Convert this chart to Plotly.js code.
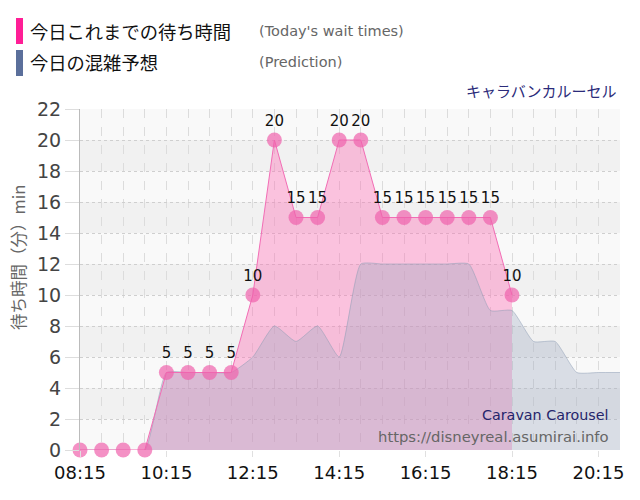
<!DOCTYPE html>
<html>
<head>
<meta charset="utf-8">
<script src="https://cdn.plot.ly/plotly-3.0.1.min.js"></script>
<style>html,body{margin:0;padding:0;background:#fff;}#chart{width:640px;height:500px;}</style>
</head>
<body>
<div id="chart"></div>
<script>
// ---- data ----
const actualTimes = ["08:15","08:45","09:15","09:45","10:15","10:45","11:15","11:45","12:15","12:45","13:15","13:45","14:15","14:45","15:15","15:45","16:15","16:45","17:15","17:45","18:15"];
const actualWait = [0,0,0,0,5,5,5,5,10,20,15,15,20,20,15,15,15,15,15,15,10];
const predTimes = ["08:15","08:45","09:15","09:45","10:15","10:45","11:15","11:45","12:15","12:45","13:15","13:45","14:15","14:45","15:15","15:45","16:15","16:45","17:15","17:45","18:15","18:45","19:15","19:45","20:15","20:45"];
const predWait = [0,0,0,0,5,5,5,5,6,8,7,8,6,12,12,12,12,12,12,9,9,7,7,5,5,5];
const yTicks = [0,2,4,6,8,10,12,14,16,18,20,22];
const titleText = "キャラバンカルーセル";
const legendActual = "今日これまでの待ち時間";
const legendActualEn = "(Today's wait times)";
const legendPred = "今日の混雑予想";
const legendPredEn = "(Prediction)";
const yTitle = "待ち時間（分）min";
const attractionEn = "Caravan Carousel";
const siteUrl = "https://disneyreal.asumirai.info";

const day = "2024-01-01 ";
const toDate = t => day + t + ":00";

// ---- geometry helpers (plot area 80..620 x 109..450) ----
const L = 80, R = 620, T = 109, B = 450;
const px = x => (x - L) / (R - L);
const py = y => (B - y) / (B - T);

const cjk = '"Noto Sans CJK JP", "Noto Sans", sans-serif';
const latin = '"DejaVu Sans", Verdana, sans-serif';

const traces = [
  { // actual area fill
    x: actualTimes.map(toDate), y: actualWait, type: 'scatter', mode: 'lines',
    line: {width: 0, color: 'rgba(0,0,0,0)'}, fill: 'tozeroy',
    fillcolor: 'rgba(255,105,180,0.38)', hoverinfo: 'skip', showlegend: false
  },
  { // prediction
    x: predTimes.map(toDate), y: predWait, type: 'scatter', mode: 'lines',
    line: {width: 1, color: 'rgba(140,155,180,0.5)', shape: 'spline', smoothing: 0.5},
    fill: 'tozeroy', fillcolor: 'rgba(160,172,195,0.36)', showlegend: false
  },
  { // actual line + markers
    x: actualTimes.map(toDate), y: actualWait, type: 'scatter', mode: 'lines+markers+text',
    line: {width: 1, color: '#f26db5'},
    marker: {size: 15, color: 'rgba(240,98,172,0.7)'},
    text: actualWait.map(v => v > 0 ? String(v) : ''),
    textposition: 'top center',
    textfont: {family: latin, size: 15, color: '#111'},
    cliponaxis: false, showlegend: false
  }
];

const shapes = [];
for (let i = 0; i < yTicks.length - 1; i++) {
  if (yTicks[i] % 4 === 2) {
    shapes.push({type: 'rect', xref: 'paper', yref: 'y', x0: 0, x1: 1, y0: yTicks[i], y1: yTicks[i+1],
      fillcolor: '#f1f1f1', line: {width: 0}, layer: 'below'});
  }
}
shapes.push({type: 'rect', xref: 'paper', yref: 'paper', x0: px(16), x1: px(23), y0: py(44), y1: py(18),
  fillcolor: '#ff1e96', line: {width: 0}});
shapes.push({type: 'rect', xref: 'paper', yref: 'paper', x0: px(16), x1: px(23), y0: py(76), y1: py(50),
  fillcolor: '#5b6f9b', line: {width: 0}});

const ann = (text, x, y, xa, size, color, family, extra) => Object.assign({
  text: text, xref: 'paper', yref: 'paper', x: px(x), y: py(y), xanchor: xa, yanchor: 'middle',
  showarrow: false, font: {size: size, color: color, family: family}
}, extra || {});

const annotations = [
  ann(legendActual, 28, 31, 'left', 18.3, '#111', cjk),
  ann(legendActualEn, 257, 31, 'left', 14.5, '#666', latin),
  ann(legendPred, 28, 62, 'left', 18.3, '#111', cjk),
  ann(legendPredEn, 257, 62, 'left', 14.5, '#666', latin),
  ann(titleText, 619, 90, 'right', 15, '#2b2b7a', cjk),
  ann(attractionEn, 611, 415, 'right', 14.3, '#25256b', latin),
  ann(siteUrl, 611, 436, 'right', 14.8, '#666', latin),
  ann(yTitle, 18, 258, 'center', 16.5, '#666', cjk, {textangle: -90})
];

const layout = {
  width: 640, height: 500,
  margin: {l: L, r: 640 - R, t: T, b: 500 - B},
  paper_bgcolor: '#ffffff', plot_bgcolor: '#f9f9f9',
  showlegend: false,
  xaxis: {
    type: 'date',
    range: [toDate("08:15"), toDate("20:45")],
    tick0: toDate("08:15"), dtick: 7200000, tickformat: '%H:%M',
    tickfont: {family: latin, size: 18, color: '#111'},
    showgrid: true, gridcolor: '#dcdcdc', griddash: 'dash', gridwidth: 1,
    minor: {dtick: 1800000, tick0: toDate("08:15"), showgrid: true, gridcolor: '#dcdcdc', griddash: 'dash', gridwidth: 1},
    ticks: 'outside', ticklen: 6, tickcolor: '#e0e0e0',
    zeroline: false, showline: false, fixedrange: true
  },
  yaxis: {
    range: [0, 22], tickvals: yTicks, ticktext: yTicks.map(String),
    tickfont: {family: latin, size: 19, color: '#444'},
    showgrid: true, gridcolor: '#cfcfcf', griddash: 'dot', gridwidth: 1,
    ticks: 'outside', ticklen: 14, tickcolor: '#dddddd',
    showline: true, linecolor: '#bbbbbb', linewidth: 1,
    zeroline: false, fixedrange: true
  },
  shapes: shapes,
  annotations: annotations
};

Plotly.newPlot('chart', traces, layout, {staticPlot: true, displayModeBar: false});
</script>
</body>
</html>
